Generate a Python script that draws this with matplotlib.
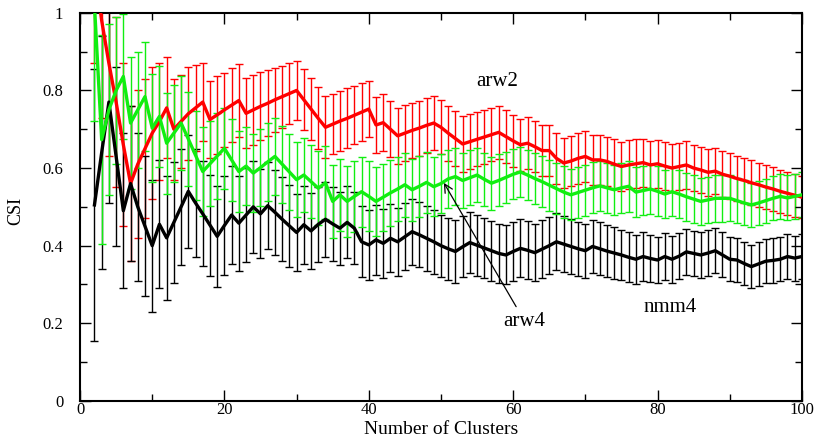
import numpy as np
import matplotlib
matplotlib.use("Agg")
import matplotlib.pyplot as plt
from matplotlib.ticker import MultipleLocator, FuncFormatter

plt.rcParams["font.family"] = ["Liberation Serif", "DejaVu Serif"]

# number of clusters, one point per integer
clusters = np.arange(2, 101)

# arw2 (red)
arw2 = [1.12, 0.98, 0.87, 0.77, 0.66, 0.56, 0.61, 0.65, 0.69, 0.72,
        0.755, 0.70, 0.72, 0.74, 0.755, 0.77, 0.725, 0.737, 0.75, 0.762,
        0.774, 0.741, 0.75, 0.759, 0.767, 0.776, 0.784, 0.792, 0.80, 0.776,
        0.752, 0.728, 0.705, 0.713, 0.721, 0.728, 0.736, 0.744, 0.752, 0.711,
        0.717, 0.70, 0.683, 0.69, 0.697, 0.703, 0.71, 0.716, 0.705, 0.69,
        0.676, 0.662, 0.668, 0.674, 0.68, 0.686, 0.692, 0.681, 0.67, 0.66,
        0.664, 0.655, 0.645, 0.645, 0.625, 0.613, 0.618, 0.625, 0.63, 0.621,
        0.621, 0.617, 0.61, 0.604, 0.608, 0.611, 0.614, 0.608, 0.611, 0.605,
        0.60, 0.604, 0.608, 0.60, 0.595, 0.589, 0.592, 0.584, 0.579, 0.573,
        0.568, 0.562, 0.557, 0.551, 0.546, 0.54, 0.535, 0.53, 0.525]
arw2_err = [0.25, 0.25, 0.24, 0.22, 0.21, 0.20, 0.19, 0.18, 0.17, 0.15,
            0.13, 0.13, 0.12, 0.12, 0.11, 0.10, 0.10, 0.10, 0.095, 0.095,
            0.094, 0.09, 0.09, 0.088, 0.085, 0.083, 0.08, 0.078, 0.075, 0.078,
            0.08, 0.08, 0.08, 0.078, 0.078, 0.077, 0.075, 0.075, 0.073, 0.073,
            0.073, 0.072, 0.072, 0.072, 0.071, 0.071, 0.071, 0.070, 0.070, 0.071,
            0.071, 0.071, 0.070, 0.070, 0.069, 0.069, 0.068, 0.068, 0.067, 0.067,
            0.067, 0.066, 0.066, 0.066, 0.065, 0.065, 0.065, 0.065, 0.065, 0.065,
            0.064, 0.064, 0.064, 0.063, 0.063, 0.063, 0.062, 0.062, 0.062, 0.062,
            0.061, 0.061, 0.061, 0.060, 0.060, 0.060, 0.060, 0.059, 0.059, 0.058,
            0.058, 0.058, 0.057, 0.057, 0.057, 0.056, 0.056, 0.055, 0.055]

# arw4 (green)
arw4 = [1.02, 0.673, 0.75, 0.80, 0.836, 0.716, 0.75, 0.784, 0.703, 0.733,
        0.664, 0.69, 0.716, 0.675, 0.633, 0.591, 0.611, 0.631, 0.651, 0.621,
        0.591, 0.605, 0.587, 0.601, 0.616, 0.63, 0.61, 0.59, 0.57, 0.582,
        0.565, 0.548, 0.562, 0.514, 0.531, 0.514, 0.527, 0.539, 0.527, 0.514,
        0.525, 0.536, 0.546, 0.557, 0.544, 0.553, 0.563, 0.552, 0.56, 0.572,
        0.578, 0.568, 0.575, 0.582, 0.571, 0.561, 0.568, 0.576, 0.584, 0.59,
        0.582, 0.573, 0.565, 0.556, 0.547, 0.538, 0.531, 0.537, 0.543, 0.549,
        0.554, 0.549, 0.544, 0.549, 0.553, 0.538, 0.542, 0.546, 0.54, 0.533,
        0.539, 0.533, 0.526, 0.52, 0.514, 0.518, 0.522, 0.522, 0.522, 0.516,
        0.51, 0.505, 0.51, 0.516, 0.522, 0.527, 0.523, 0.527, 0.531]
arw4_err = [0.30, 0.27, 0.22, 0.19, 0.16, 0.17, 0.15, 0.14, 0.14, 0.13,
            0.13, 0.125, 0.12, 0.12, 0.115, 0.115, 0.11, 0.11, 0.105, 0.105,
            0.105, 0.10, 0.10, 0.10, 0.10, 0.10, 0.099, 0.098, 0.097, 0.096,
            0.095, 0.095, 0.094, 0.093, 0.093, 0.092, 0.091, 0.09, 0.09, 0.088,
            0.086, 0.085, 0.083, 0.082, 0.08, 0.079, 0.078, 0.076, 0.075, 0.074,
            0.073, 0.072, 0.071, 0.07, 0.069, 0.068, 0.067, 0.066, 0.065, 0.065,
            0.065, 0.066, 0.066, 0.066, 0.066, 0.066, 0.066, 0.066, 0.066, 0.066,
            0.065, 0.065, 0.065, 0.065, 0.065, 0.065, 0.064, 0.064, 0.064, 0.063,
            0.063, 0.062, 0.062, 0.061, 0.061, 0.06, 0.06, 0.06, 0.059, 0.058,
            0.058, 0.057, 0.057, 0.057, 0.057, 0.058, 0.058, 0.058, 0.058]

# nmm4 (black)
nmm4 = [0.505, 0.64, 0.77, 0.63, 0.49, 0.56, 0.50, 0.45, 0.40, 0.455,
        0.42, 0.46, 0.50, 0.54, 0.51, 0.482, 0.453, 0.424, 0.452, 0.479,
        0.458, 0.479, 0.50, 0.482, 0.503, 0.486, 0.468, 0.451, 0.434, 0.454,
        0.438, 0.455, 0.468, 0.456, 0.445, 0.46, 0.445, 0.41, 0.402, 0.415,
        0.406, 0.419, 0.41, 0.423, 0.436, 0.428, 0.419, 0.41, 0.40, 0.392,
        0.385, 0.397, 0.408, 0.401, 0.394, 0.387, 0.38, 0.376, 0.385, 0.393,
        0.388, 0.382, 0.391, 0.40, 0.41, 0.404, 0.398, 0.392, 0.387, 0.398,
        0.392, 0.386, 0.381, 0.376, 0.37, 0.365, 0.372, 0.367, 0.363, 0.372,
        0.365, 0.373, 0.384, 0.38, 0.376, 0.381, 0.387, 0.376, 0.365, 0.363,
        0.354, 0.346, 0.353, 0.36, 0.362, 0.365, 0.372, 0.368, 0.372]
nmm4_err = [0.35, 0.30, 0.26, 0.23, 0.20, 0.20, 0.19, 0.18, 0.17, 0.165,
            0.16, 0.155, 0.15, 0.145, 0.14, 0.135, 0.13, 0.13, 0.127, 0.125,
            0.122, 0.12, 0.118, 0.115, 0.112, 0.11, 0.108, 0.105, 0.10, 0.10,
            0.098, 0.097, 0.096, 0.095, 0.094, 0.093, 0.092, 0.091, 0.09, 0.09,
            0.089, 0.088, 0.087, 0.086, 0.085, 0.084, 0.083, 0.082, 0.08, 0.08,
            0.08, 0.079, 0.079, 0.078, 0.078, 0.077, 0.077, 0.076, 0.076, 0.075,
            0.075, 0.074, 0.074, 0.073, 0.073, 0.072, 0.071, 0.07, 0.07, 0.069,
            0.068, 0.067, 0.066, 0.065, 0.064, 0.063, 0.062, 0.061, 0.06, 0.06,
            0.06, 0.06, 0.06, 0.059, 0.059, 0.059, 0.058, 0.058, 0.057, 0.057,
            0.056, 0.056, 0.056, 0.056, 0.057, 0.057, 0.057, 0.058, 0.058]

fig = plt.figure(figsize=(8.25, 4.42), dpi=100)
ax = fig.add_axes([0.097, 0.093, 0.875, 0.878])

series = [(arw2, arw2_err, "#ff0000", 3),
          (nmm4, nmm4_err, "#000000", 4),
          (arw4, arw4_err, "#11ee11", 5)]
for vals, err, col, z in series:
    ax.errorbar(clusters, vals, yerr=err, fmt="none", ecolor=col,
                elinewidth=1.0, capsize=3, capthick=1.0, zorder=1)
for vals, err, col, z in series:
    ax.plot(clusters, vals, color=col, lw=2.4, zorder=z)

ax.set_xlim(0, 100)
ax.set_ylim(0, 1)
ax.xaxis.set_major_locator(MultipleLocator(20))
ax.xaxis.set_minor_locator(MultipleLocator(10))
ax.yaxis.set_major_locator(MultipleLocator(0.2))
ax.yaxis.set_minor_locator(MultipleLocator(0.1))
ax.yaxis.set_major_formatter(FuncFormatter(lambda v, p: "%g" % round(v, 2)))
ax.tick_params(which="both", direction="in", top=True, right=True,
               labelsize=12, width=1.0)
ax.tick_params(which="major", length=8)
ax.tick_params(axis="x", which="major", pad=1)
ax.tick_params(axis="y", which="major", pad=12)
ax.tick_params(which="minor", length=5)
for s in ax.spines.values():
    s.set_linewidth(1.5)

ax.set_xlabel("Number of Clusters", fontsize=14)
ax.xaxis.set_label_coords(0.5, -0.052)
ax.set_ylabel("CSI", fontsize=13)
ax.yaxis.set_label_coords(-0.077, 0.49)

ax.text(57.8, 0.822, "arw2", ha="center", va="center", fontsize=15)
ax.text(81.7, 0.24, "nmm4", ha="center", va="center", fontsize=15)
ax.annotate("arw4", xy=(50.4, 0.562), xytext=(61.6, 0.205),
            ha="center", va="center", fontsize=15,
            arrowprops=dict(arrowstyle="->", color="black", lw=0.9,
                            shrinkA=2, shrinkB=0))

fig.savefig("out.png", dpi=100)
